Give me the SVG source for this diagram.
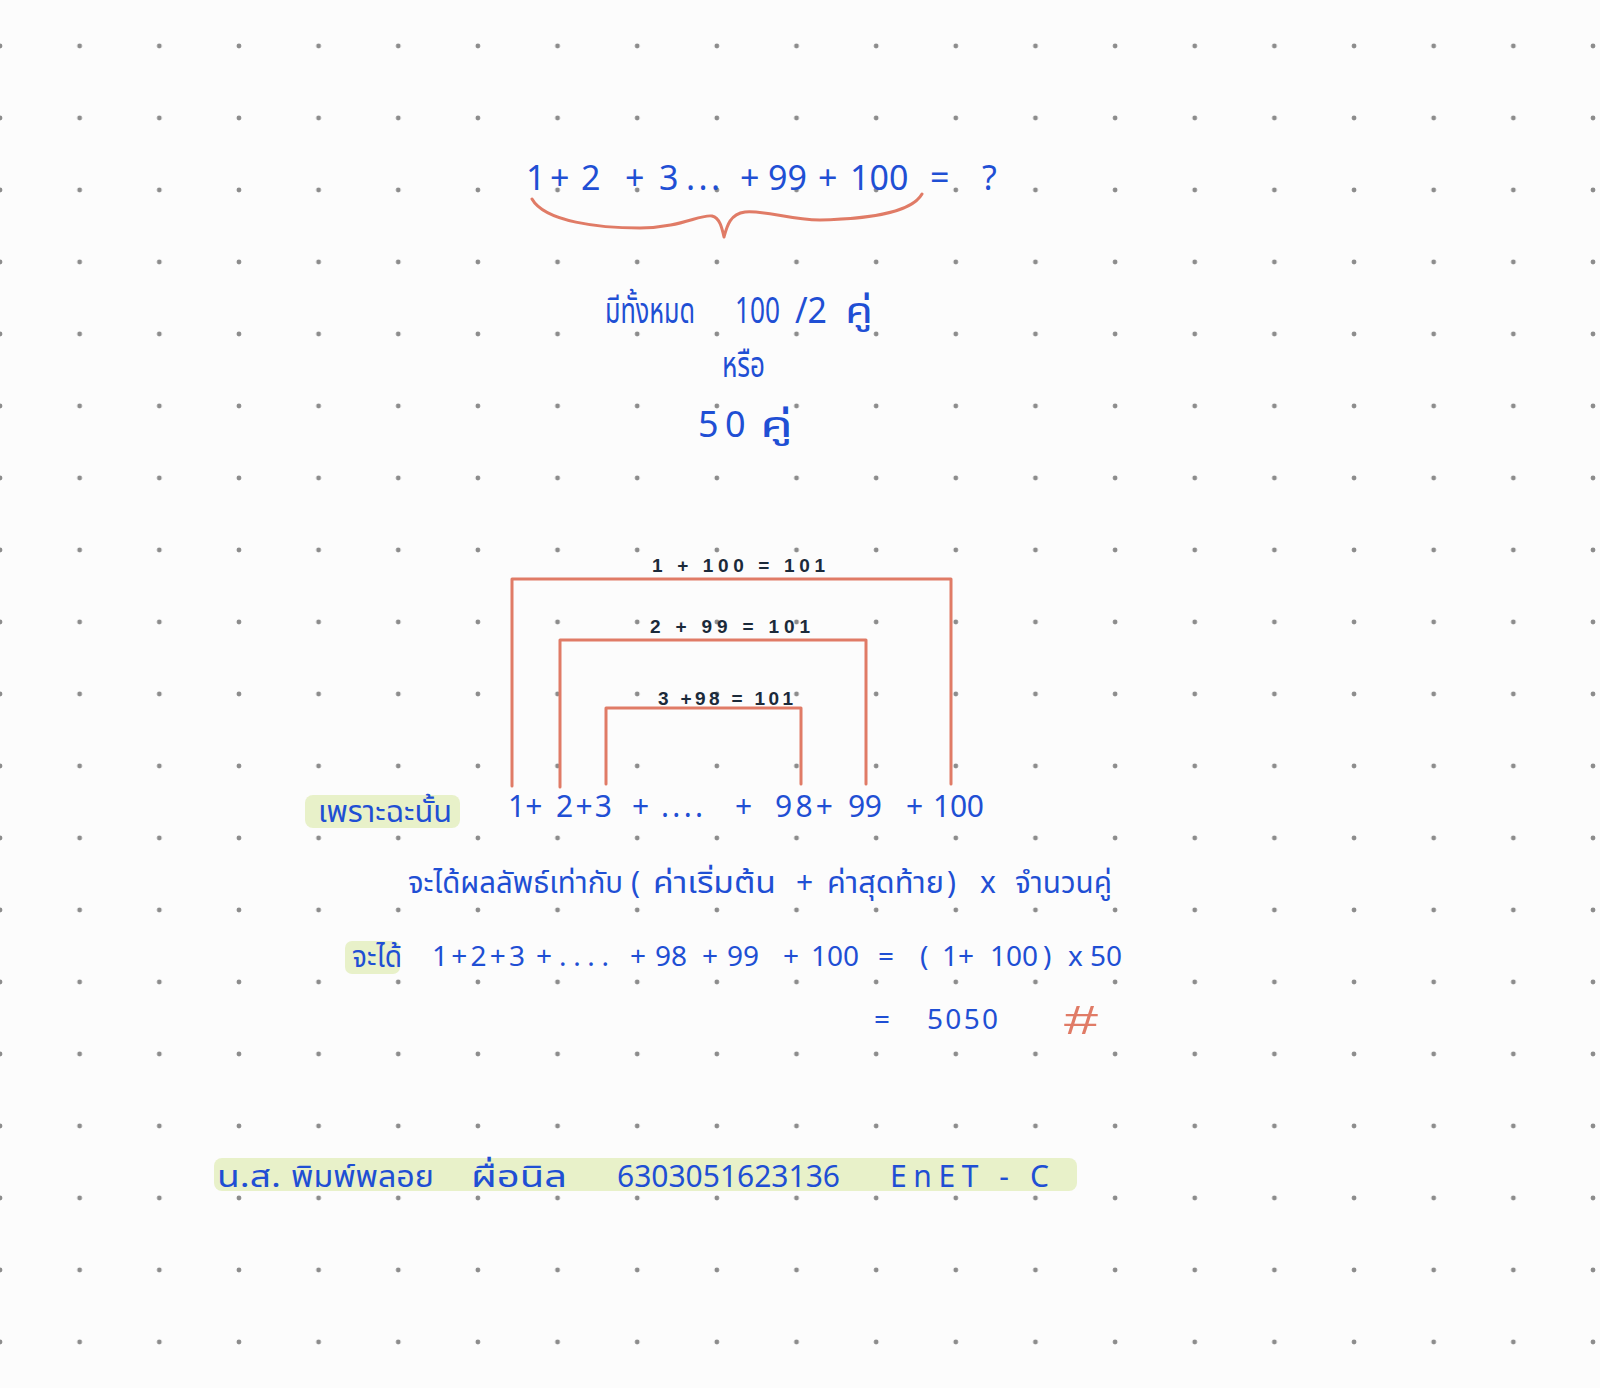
<svg xmlns="http://www.w3.org/2000/svg" width="1600" height="1388" viewBox="0 0 1600 1388">
<defs>
<pattern id="dots" patternUnits="userSpaceOnUse" x="-39.825" y="10" width="79.65" height="72">
<circle cx="39.825" cy="36" r="2.4" fill="#8c8c8c"/>
</pattern>
<style>
.b{fill:#1f4fd4;font-family:"Noto Sans Thai","Noto Sans","Liberation Sans",sans-serif;}
.n{fill:#1b2a3a;font-family:"Liberation Sans","Noto Sans",sans-serif;font-weight:bold;font-size:19px;}
.s{fill:none;stroke:#e07b66;stroke-width:3;stroke-linecap:round;stroke-linejoin:round;}
.hl{fill:#e8f1c9;}
</style>
</defs>
<rect width="1600" height="1388" fill="#fcfcfc"/>
<rect width="1600" height="1388" fill="url(#dots)"/>

<g id="question" class="b" font-size="34">
<text x="526" y="190">1</text>
<text x="550" y="190">+</text>
<text x="581" y="190">2</text>
<text x="625" y="190">+</text>
<text x="659" y="190">3</text>
<text x="686" y="190" textLength="34" lengthAdjust="spacing">. . .</text>
<text x="740" y="190">+</text>
<text x="768" y="190">99</text>
<text x="818" y="190">+</text>
<text x="850" y="190">100</text>
<text x="930" y="190">=</text>
<text x="982" y="190">?</text>
</g>
<g id="brace">
<path class="s" d="M532,199 C545,222 600,228 640,228 C680,228 700,214 712,216 C720,218 722,228 724,237 C727,226 730,214 745,212 C765,210 790,220 820,220 C860,219 910,215 922,194"/>
</g>

<g id="pairs" class="b" font-size="36">
<text x="605" y="323" textLength="90" lengthAdjust="spacingAndGlyphs">มีทั้งหมด</text>
<text x="735" y="323" textLength="45" lengthAdjust="spacingAndGlyphs">100</text>
<text x="795" y="323" textLength="32" lengthAdjust="spacingAndGlyphs">/2</text>
<text x="845" y="323" textLength="28" lengthAdjust="spacingAndGlyphs">คู่</text>
<text x="722" y="377" textLength="43" lengthAdjust="spacingAndGlyphs">หรือ</text>
<text x="698" y="437">5</text>
<text x="725" y="437">0</text>
<text x="760" y="437" textLength="33" lengthAdjust="spacingAndGlyphs">คู่</text>
</g>

<g id="connectors">
<polyline class="s" points="512,786 512,579 951,579 951,784"/>
<polyline class="s" points="560,787 560,640 866,640 866,784"/>
<polyline class="s" points="606,784 606,708 801,708 801,784"/>
</g>
<g id="pair-labels">
<text class="n" x="652" y="572" textLength="173" lengthAdjust="spacing">1 + 100  =  101</text>
<text class="n" x="650" y="633" textLength="160" lengthAdjust="spacing">2 + 99  =  101</text>
<text class="n" x="658" y="705" textLength="135" lengthAdjust="spacing">3 +98 = 101</text>
</g>

<g id="therefore">
<rect class="hl" x="305" y="795" width="155" height="33" rx="8"/>
<text class="b" font-size="30" x="318" y="822" textLength="134" lengthAdjust="spacingAndGlyphs">เพราะฉะนั้น</text>
</g>
<g id="series" class="b" font-size="30">
<text x="508" y="817">1+</text>
<text x="556" y="817" textLength="56" lengthAdjust="spacing">2+3</text>
<text x="632" y="817">+</text>
<text x="661" y="817" textLength="42" lengthAdjust="spacing">....</text>
<text x="735" y="817">+</text>
<text x="775" y="817" textLength="58" lengthAdjust="spacing">98+</text>
<text x="848" y="817" textLength="34" lengthAdjust="spacing">99</text>
<text x="906" y="817">+</text>
<text x="933" y="817" textLength="51" lengthAdjust="spacing">100</text>
</g>

<g id="rule" class="b" font-size="30">
<text x="408" y="893" textLength="215" lengthAdjust="spacingAndGlyphs">จะได้ผลลัพธ์เท่ากับ</text>
<text x="631" y="893">(</text>
<text x="653" y="893" textLength="123" lengthAdjust="spacingAndGlyphs">ค่าเริ่มต้น</text>
<text x="796" y="893">+</text>
<text x="827" y="893" textLength="117" lengthAdjust="spacingAndGlyphs">ค่าสุดท้าย</text>
<text x="947" y="893">)</text>
<text x="980" y="893">x</text>
<text x="1015" y="893" textLength="97" lengthAdjust="spacingAndGlyphs">จำนวนคู่</text>
</g>

<g id="result">
<rect class="hl" x="345" y="941" width="55" height="33" rx="7"/>
<text class="b" font-size="30" x="352" y="967" textLength="50" lengthAdjust="spacingAndGlyphs">จะได้</text>
<g class="b" font-size="28">
<text x="432" y="966" textLength="93" lengthAdjust="spacing">1+2+3</text>
<text x="536" y="966">+</text>
<text x="559" y="966" textLength="50" lengthAdjust="spacing">....</text>
<text x="630" y="966">+</text>
<text x="655" y="966">98</text>
<text x="702" y="966">+</text>
<text x="727" y="966">99</text>
<text x="783" y="966">+</text>
<text x="811" y="966">100</text>
<text x="878" y="966">=</text>
<text x="920" y="966">(</text>
<text x="942" y="966">1+</text>
<text x="990" y="966">100</text>
<text x="1043" y="966">)</text>
<text x="1068" y="966">x</text>
<text x="1090" y="966">50</text>
<text x="874" y="1029">=</text>
<text x="927" y="1029" textLength="71" lengthAdjust="spacing">5050</text>
</g>
<text x="1064" y="1034" font-size="40" fill="#e07b66" font-family="Liberation Sans,sans-serif" textLength="34" lengthAdjust="spacingAndGlyphs">#</text>
</g>

<g id="author">
<rect class="hl" x="214" y="1158" width="863" height="33" rx="8"/>
<g class="b" font-size="30">
<text x="217" y="1187" textLength="64" lengthAdjust="spacingAndGlyphs">น.ส.</text>
<text x="291" y="1187" textLength="143" lengthAdjust="spacingAndGlyphs">พิมพ์พลอย</text>
<text x="471" y="1187" textLength="96" lengthAdjust="spacingAndGlyphs">ผื่อนิล</text>
<text x="617" y="1187" textLength="223" lengthAdjust="spacing">6303051623136</text>
<text x="890" y="1187" textLength="159" lengthAdjust="spacing">EnET - C</text>
</g>
</g>
</svg>
